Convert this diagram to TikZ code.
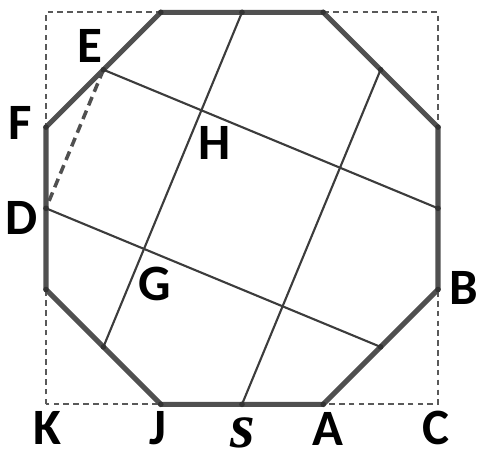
\documentclass[tikz,border=0pt]{standalone}
\usepackage{fontspec}
\setsansfont{Carlito}
\newfontfamily\labelserif{Liberation Serif}
\usepackage{xcolor}
\definecolor{edgeGray}{HTML}{505050}
\definecolor{chordGray}{HTML}{3C3C3C}
\definecolor{frameGray}{HTML}{595959}
\definecolor{darkText}{HTML}{000000}
\usepackage{tikz}
\usetikzlibrary{
    positioning,
    calc
}
\tikzset{
    % Thick outline of the octagon
    octagon edge/.style={
        draw=edgeGray,
        line width=1.45pt,
        line join=round,
    },
    % Thin segments between edge midpoints
    chord/.style={
        draw=chordGray,
        line width=0.6pt,
    },
    % Dashed bounding square
    frame/.style={
        draw=frameGray,
        line width=0.55pt,
        dash pattern=on 1.6pt off 1.2pt,
    },
    % Dashed segment E--D
    chord dashed/.style={
        draw=edgeGray,
        line width=1pt,
        dash pattern=on 2.6pt off 1.6pt,
    },
    % Small vertex dots
    vertex dot/.style={
        circle,
        fill=black!80,
        inner sep=0pt,
        minimum size=1.6pt,
    },
    % Point labels
    point label/.style={
        font=\sffamily\bfseries\fontsize{14.5}{14.5}\selectfont,
        text=darkText,
        inner sep=0pt,
    },
}

\begin{document}
\begin{tikzpicture}
    \useasboundingbox (-0.46,-0.447) rectangle (4.33,4.043);
    \def\side{3.92}
    \def\cut{1.148}

    % square corners and octagon vertices
    \coordinate (K) at (0,0);
    \coordinate (C) at (\side,0);
    \coordinate (J) at (\cut,0);
    \coordinate (A) at (\side-\cut,0);
    \coordinate (B) at (\side,\cut);
    \coordinate (Bup) at (\side,\side-\cut);
    \coordinate (Tright) at (\side-\cut,\side);
    \coordinate (Tleft) at (\cut,\side);
    \coordinate (F) at (0,\side-\cut);
    \coordinate (Flow) at (0,\cut);

    % midpoints of the edges
    \coordinate (E) at ($(F)!0.5!(Tleft)$);
    \coordinate (D) at ($(F)!0.5!(Flow)$);
    \coordinate (Rmid) at ($(Bup)!0.5!(B)$);
    \coordinate (Pmid) at ($(A)!0.5!(B)$);
    \coordinate (Tmid) at ($(Tleft)!0.5!(Tright)$);
    \coordinate (Qmid) at ($(Flow)!0.5!(J)$);
    \coordinate (Umid) at ($(Tright)!0.5!(Bup)$);
    \coordinate (S) at ($(J)!0.5!(A)$);

    \draw [frame] (K) rectangle (\side,\side);
    \draw [octagon edge] (J) -- (A) -- (B) -- (Bup) -- (Tright) -- (Tleft) -- (F) -- (Flow) -- cycle;

    \draw [chord] (E) -- (Rmid);
    \draw [chord] (D) -- (Pmid);
    \draw [chord] (Tmid) -- (Qmid);
    \draw [chord] (Umid) -- (S);
    \draw [chord dashed] (E) -- (D);

    \foreach \p in {J,A,B,Bup,Tright,Tleft,F,Flow,E,D,Rmid,Pmid,Tmid,Qmid,Umid,S}
        \node [vertex dot] at (\p) {};

    \node (labE) [point label] at (0.44,3.583) {E};
    \node (labF) [point label] at (-0.26,2.813) {F};
    \node (labH) [point label] at (1.69,2.613) {H};
    \node (labD) [point label] at (-0.24,1.863) {D};
    \node (labG) [point label] at (1.09,1.203) {G};
    \node (labB) [point label] at (4.18,1.163) {B};
    \node (labK) [point label] at (0.01,-0.24) {K};
    \node (labJ) [point label] at (1.12,-0.24) {J};
    \node (labS) [point label, font=\labelserif\bfseries\itshape\fontsize{18}{18}\selectfont] at (1.97,-0.29) {s};
    \node (labA) [point label] at (2.82,-0.25) {A};
    \node (labC) [point label] at (3.90,-0.24) {C};
\end{tikzpicture}
\end{document}
